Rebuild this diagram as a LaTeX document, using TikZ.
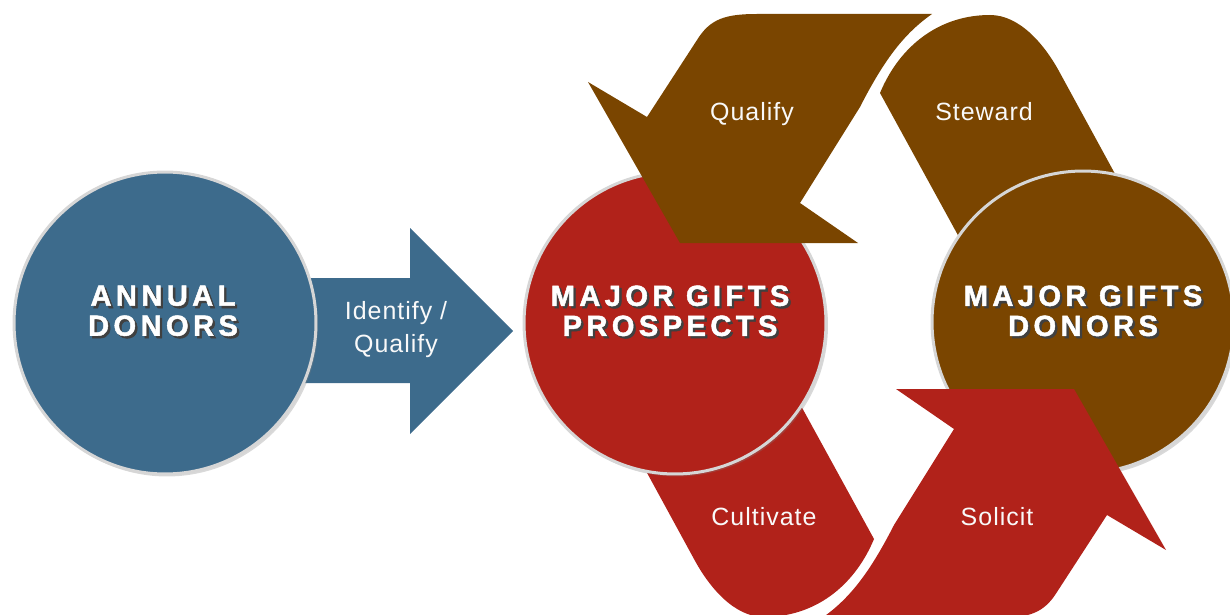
\documentclass[tikz,border=0pt]{standalone}
\usepackage{fontspec}
\setmainfont{Liberation Sans}
\newfontfamily\titlefont[LetterSpace=15, FakeBold=1.6]{Liberation Sans Bold}
\newfontfamily\labelfont[LetterSpace=4]{Liberation Sans}
\usetikzlibrary{shadows}

\definecolor{donorblue}{HTML}{3D6B8C}
\definecolor{giftred}{HTML}{B1221A}
\definecolor{giftbrown}{HTML}{7A4500}
\definecolor{rimgray}{HTML}{D6D6D6}

\newcommand\shadowed[1]{\makebox[0pt][l]{\kern0.08em\raisebox{-0.08em}{\textcolor{black!75}{#1}}}#1}

\tikzset{
    disc/.style={circle, draw=rimgray, line width=0.06cm, minimum size=6.04cm,
        inner sep=0pt, drop shadow={shadow xshift=0.04cm, shadow yshift=-0.05cm, opacity=0.3}},
    disctitle/.style={text=white, align=center,
        font=\titlefont\fontsize{16.6}{17.1}\selectfont},
    steplabel/.style={text=white!95!gray, align=center,
        font=\labelfont\fontsize{14.2}{18.8}\selectfont}
}

\begin{document}
\begin{tikzpicture}[x=0.02cm, y=-0.02cm]
    \useasboundingbox (0,0) rectangle (1230,615);

    % bands that run under the discs
    \fill[giftbrown] (988,290) -- (880,93) .. controls (900,45) and (940,15) .. (990,15)
        .. controls (1020,15) and (1045,45) .. (1060,73) -- (1162,260) -- cycle;
    \begin{scope}[rotate around={180:(877,316)}]
        \fill[giftred] (988,290) -- (880,93) .. controls (900,45) and (940,15) .. (990,15)
            .. controls (1020,15) and (1045,45) .. (1060,73) -- (1162,260) -- cycle;
    \end{scope}

    % annual -> prospects
    \fill[donorblue] (300,278) -- (410,278) -- (410,228) -- (513,331)
        -- (410,434) -- (410,383) -- (300,383) -- cycle;

    \node[disc, fill=donorblue] (annual) at (165,323) {};
    \node[disc, fill=giftred] (prospects) at (675,323) {};
    \node[disc, fill=giftbrown] (donors) at (1083,322) {};

    % arrow heads lying over the discs
    \fill[giftbrown] (680,243) -- (588,82) -- (647,117) -- (697,40)
        .. controls (710,19) and (725,14) .. (757,14) -- (932,14)
        .. controls (905,33) and (885,58) .. (860,107) -- (800,203) -- (858,243) -- cycle;
    \begin{scope}[rotate around={180:(877,316)}]
        \fill[giftred] (680,243) -- (588,82) -- (647,117) -- (697,40)
            .. controls (710,19) and (725,14) .. (757,14) -- (932,14)
            .. controls (905,33) and (885,58) .. (860,107) -- (800,203) -- (858,243) -- cycle;
    \end{scope}

    \node[disctitle] (annualtitle) at ([xshift=-0.04cm, yshift=0.22cm]annual.center)
        {\shadowed{ANNUAL}\\\shadowed{DONORS}};
    \node[disctitle] (prospectstitle) at ([xshift=-0.1cm, yshift=0.22cm]prospects.center)
        {\shadowed{MAJOR GIFTS}\\\shadowed{PROSPECTS}};
    \node[disctitle] (donorstitle) at ([yshift=0.2cm]donors.center)
        {\shadowed{MAJOR GIFTS}\\\shadowed{DONORS}};

    \node[steplabel] (identify) at (396,330) {Identify /\\Qualify};
    \node[steplabel, anchor=base] (qualify) at (752,120) {Qualify};
    \node[steplabel, anchor=base] (steward) at (984,120) {Steward};
    \node[steplabel, anchor=base] (cultivate) at (764,525) {Cultivate};
    \node[steplabel, anchor=base] (solicit) at (997,525) {Solicit};
\end{tikzpicture}
\end{document}
